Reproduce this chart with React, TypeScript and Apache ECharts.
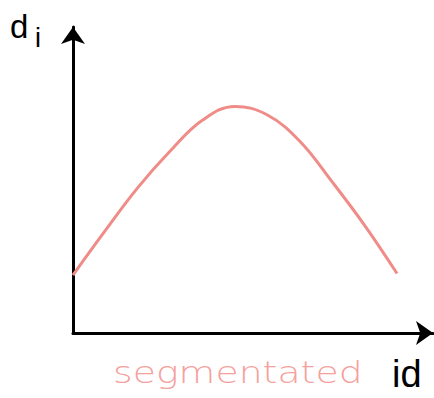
import React, { useEffect, useRef } from "react";
import * as echarts from "echarts";

const xValues = [0, 1, 2, 3, 4, 5, 6, 7, 8, 9, 10];
const diValues = [1.95, 3.45, 4.89, 6.12, 7.16, 7.62, 7.33, 6.45, 5.08, 3.62, 2.0];
const seriesName = "segmentated";
const xAxisName = "id";
const yAxisName = "d";
const yAxisSub = "i";

export default function App() {
  const ref = useRef<HTMLDivElement>(null);
  useEffect(() => {
    const chart = echarts.init(ref.current!, null, { renderer: "svg" });
    chart.setOption({
      animation: false,
      backgroundColor: "#ffffff",
      grid: { left: 73, top: 27, width: 360, height: 306 },
      xAxis: {
        type: "value",
        min: 0,
        max: 11.11,
        axisLine: {
          show: true,
          onZero: false,
          lineStyle: { color: "#000", width: 3 },
          symbol: ["none", "arrow"],
          symbolSize: [18, 17],
        },
        axisTick: { show: false },
        axisLabel: { show: false },
        splitLine: { show: false },
      },
      yAxis: {
        type: "value",
        min: 0,
        max: 10.29,
        axisLine: {
          show: true,
          onZero: false,
          lineStyle: { color: "#000", width: 3 },
          symbol: ["none", "arrow"],
          symbolSize: [18, 17],
        },
        axisTick: { show: false },
        axisLabel: { show: false },
        splitLine: { show: false },
      },
      series: [
        {
          name: seriesName,
          type: "line",
          smooth: 0.4,
          showSymbol: false,
          data: xValues.map((x, i) => [x, diValues[i]]),
          lineStyle: { color: "#f08c88", width: 3 },
        },
      ],
      graphic: [
        {
          type: "text",
          x: 10,
          y: 26,
          style: {
            text: yAxisName,
            font: "33px 'Liberation Sans'",
            fill: "#000",
            verticalAlign: "middle",
          },
        },
        {
          type: "text",
          x: 35,
          y: 38,
          style: {
            text: yAxisSub,
            font: "27px 'Liberation Sans'",
            fill: "#000",
            verticalAlign: "middle",
          },
        },
        {
          type: "text",
          x: 113,
          y: 372,
          scaleX: 1.26,
          style: {
            text: seriesName,
            font: "200 30px 'DejaVu Sans'",
            fill: "#f5a19d",
            verticalAlign: "middle",
          },
        },
        {
          type: "text",
          x: 392,
          y: 374,
          style: {
            text: xAxisName,
            font: "38px 'Liberation Sans'",
            fill: "#000",
            verticalAlign: "middle",
          },
        },
      ],
    });
    return () => chart.dispose();
  }, []);
  return <div ref={ref} style={{ width: 434, height: 398, position: "absolute", left: 0, top: 0 }} />;
}
